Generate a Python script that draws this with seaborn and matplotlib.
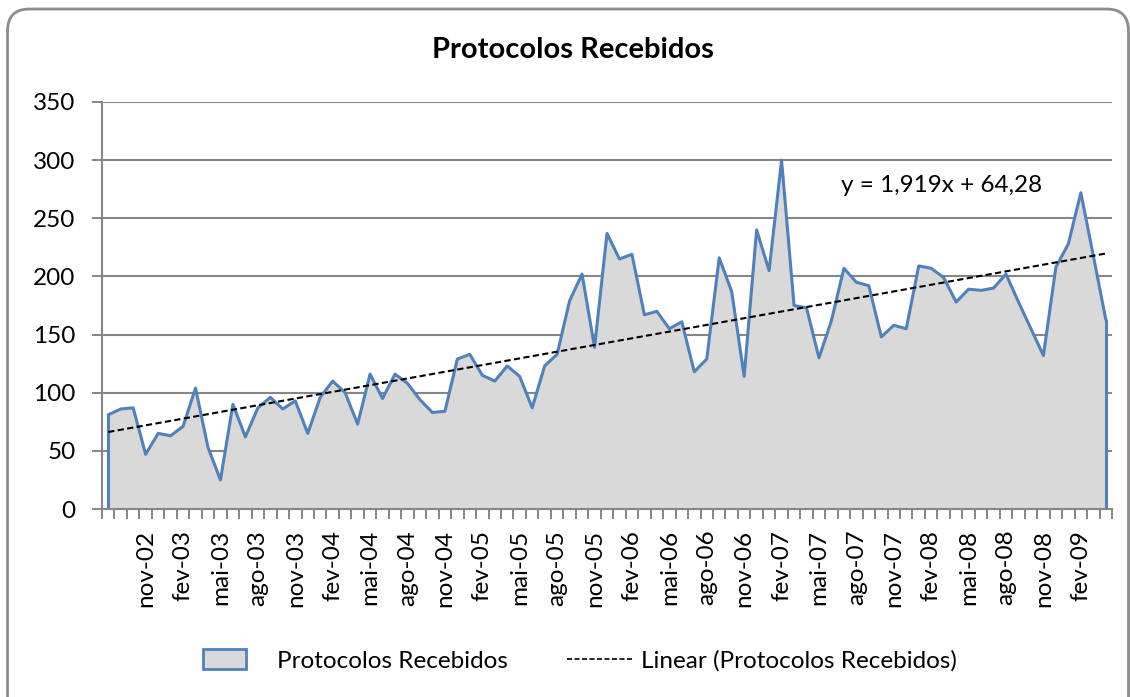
import matplotlib
matplotlib.use("Agg")
import matplotlib.pyplot as plt
import seaborn as sns
import numpy as np
from matplotlib.patches import FancyBboxPatch, Patch, Rectangle
from matplotlib.lines import Line2D
from matplotlib.legend_handler import HandlerPatch

# monthly received protocols, aug-02 .. apr-09
months_pt = ["jan", "fev", "mar", "abr", "mai", "jun",
             "jul", "ago", "set", "out", "nov", "dez"]
start_month = 8   # agosto
start_year = 2002
protocolos = [81, 86, 87, 47, 65, 63, 71, 104, 53, 25,
              90, 62, 87, 96, 86, 93, 65, 96, 110, 100,
              73, 116, 95, 116, 108, 94, 83, 84, 129, 133,
              115, 110, 123, 114, 87, 123, 133, 179, 202, 139,
              237, 215, 219, 167, 170, 155, 161, 118, 129, 216,
              187, 114, 240, 205, 300, 175, 173, 130, 162, 207,
              195, 192, 148, 158, 155, 209, 207, 199, 178, 189,
              188, 190, 202, 178, 155, 132, 208, 228, 272, 218,
              163]
trend_slope = 1.919
trend_intercept = 64.28
trend_label = "y = 1,919x + 64,28"

n = len(protocolos)
labels = []
for i in range(n):
    m = (start_month - 1 + i) % 12
    y = start_year + (start_month - 1 + i) // 12
    labels.append(f"{months_pt[m]}-{y % 100:02d}")

sns.set_theme(style="white")
plt.rcParams["font.family"] = ["Lato", "DejaVu Sans"]
plt.rcParams["text.color"] = "black"
plt.rcParams["xtick.color"] = "black"
plt.rcParams["ytick.color"] = "black"

fig = plt.figure(figsize=(11.3, 6.97), dpi=100)
W, H = 1130, 697
ax = fig.add_axes([102 / W, 1 - 509 / H, 1010 / W, 407 / H])

x = np.arange(n)
vals = np.array(protocolos, dtype=float)

line_col = "#4F81BD"
fill_col = "#D9D9D9"
grid_col = "#868686"
fs = 17.5

ax.fill_between(x, 0, vals, color=fill_col, lw=0, zorder=2)
sns.lineplot(x=x, y=vals, ax=ax, color=line_col, lw=2.2, zorder=4)
ax.vlines([x[0], x[-1]], 0, [vals[0], vals[-1]], color=line_col, lw=2.2, zorder=4)

trend_x = x + 1
trend_y = trend_slope * trend_x + trend_intercept
sns.lineplot(x=x, y=trend_y, ax=ax, color="black", lw=1.5,
             linestyle=(0, (3, 1.6)), zorder=5)

ax.set_xlim(-0.5, n - 0.5)
ax.set_ylim(0, 350)
ax.set_yticks(range(0, 351, 50))
ax.yaxis.grid(True, color=grid_col, lw=1.5, zorder=1)
ax.set_axisbelow(True)
for s in ["top", "right"]:
    ax.spines[s].set_visible(False)
for s in ["left", "bottom"]:
    ax.spines[s].set_color(grid_col)
    ax.spines[s].set_linewidth(1.5)
    ax.spines[s].set_zorder(6)

lab_idx = list(range(3, n, 3))
ax.set_xticks(lab_idx)
ax.set_xticklabels([labels[i] for i in lab_idx], rotation=90, fontsize=fs)
ax.set_xticks(np.arange(-0.5, n, 1), minor=True)
ax.tick_params(axis="x", which="major", length=0, pad=15)
ax.tick_params(axis="x", which="minor", length=7, width=1.4, color=grid_col,
               direction="out", bottom=True)
ax.tick_params(axis="y", which="major", length=7, width=1.4, color=grid_col,
               direction="out", left=True, pad=12, labelsize=fs)
for t in ax.get_xticklabels() + ax.get_yticklabels():
    t.set_color("black")
ax.set_xlabel("")
ax.set_ylabel("")

ax.text(n - 22.2, 278, trend_label, fontsize=fs, ha="left", va="center",
        color="black", zorder=7)

fig.text(573 / W, 1 - 50 / H, "Protocolos Recebidos", fontsize=21,
         fontweight="bold", ha="center", va="center", color="black")


def small_box(legend, orig_handle, xdescent, ydescent, width, height, fontsize):
    # Excel draws the area swatch narrower than the line sample
    w = width * 0.65
    h = fontsize * 0.82
    return Rectangle((-xdescent, -ydescent + (height - h) / 2), w, h)


handles = [Patch(facecolor=fill_col, edgecolor=line_col, lw=2),
           Line2D([0], [0], color="black", lw=1.2, linestyle=(0, (3, 1.5)))]
leg = fig.legend(handles, ["Protocolos Recebidos", "Linear (Protocolos Recebidos)"],
                 loc="center", bbox_to_anchor=(580 / W, 1 - 661 / H), ncol=2,
                 frameon=False, fontsize=fs, handlelength=2.7,
                 columnspacing=2.4, handletextpad=0.35,
                 handler_map={Patch: HandlerPatch(patch_func=small_box)})
for t in leg.get_texts():
    t.set_color("black")

border = FancyBboxPatch((0.075, -0.3), 11.21, 7.18,
                        boxstyle="round,pad=0,rounding_size=0.22",
                        transform=fig.dpi_scale_trans, fill=False,
                        edgecolor="#8C8C8C", lw=2)
fig.patches.append(border)

fig.savefig("out.png", dpi=100)
plt.close(fig)
